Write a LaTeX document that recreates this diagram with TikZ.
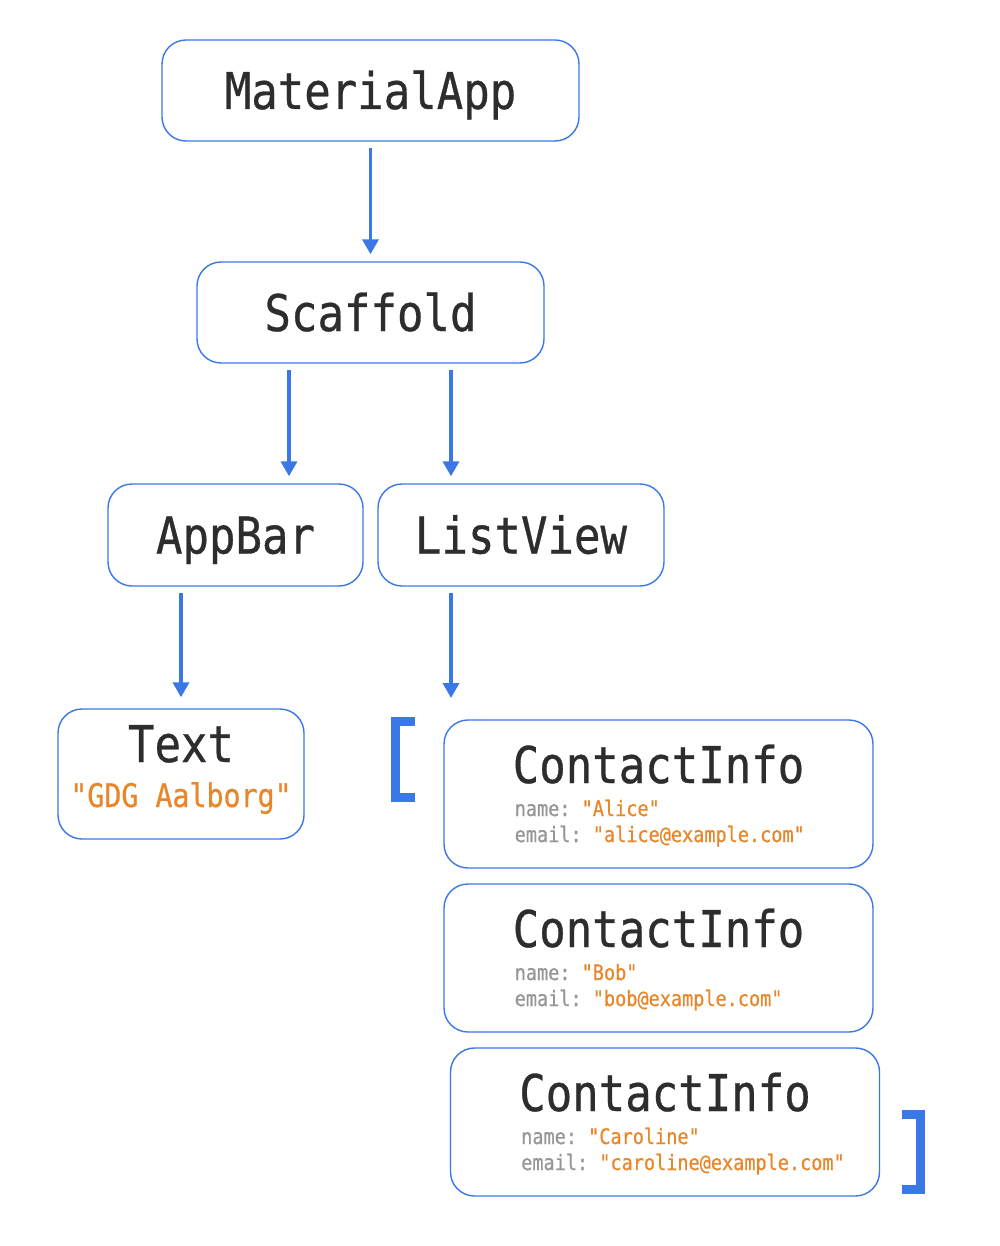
\documentclass[tikz,border=0pt]{standalone}
\usepackage{fontspec}
\setmonofont{DejaVu Sans Mono}[FakeStretch=0.87, FakeBold=0.6]
\usepackage{tikz}
\usetikzlibrary{positioning, calc, arrows.meta}

\definecolor{flutterblue}{HTML}{3B78E7}
\definecolor{codedark}{HTML}{2D2D2D}
\definecolor{strorange}{HTML}{E8872A}
\definecolor{keygrey}{HTML}{969696}

\newcommand{\field}[2]{\makebox[286pt][l]{\hspace*{2pt}\fontsize{21.3}{26}\selectfont\color{keygrey}#1: \color{strorange}"#2"}}

\tikzset{
  widget/.style={draw=flutterblue, line width=1.4pt, rounded corners=24pt, fill=white,
    text=codedark, inner sep=0pt, text height=37pt, text depth=0pt,
    font=\ttfamily\fontsize{50.6}{26}\selectfont},
  contact/.style={widget, minimum width=429pt, minimum height=148pt, align=left,
    text height=96pt, text depth=-4pt},
  edge/.style={flutterblue, line width=3.5pt, shorten <=6pt, shorten >=7pt,
    -{Triangle[width=16pt,length=15pt]}},
  listbracket/.style={flutterblue, line width=9pt, miter limit=10},
}

\begin{document}
\begin{tikzpicture}[x=1pt, y=-1pt]
    \useasboundingbox (0,0) rectangle (1000,1246);

    % Widget tree
    \node[widget, minimum width=417pt, minimum height=101pt] (materialapp) at (370.5,90.5) {MaterialApp};
    \node[widget, minimum width=347pt, minimum height=101pt] (scaffold) at (370.5,312.5) {Scaffold};
    \node[widget, minimum width=255pt, minimum height=102pt] (appbar) at (235.5,535) {AppBar};
    \node[widget, minimum width=286pt, minimum height=102pt] (listview) at (521,535) {ListView};
    \node[widget, minimum width=246pt, minimum height=130pt, align=center, text height=80pt, text depth=14pt,
          font=\ttfamily\fontsize{50.6}{45}\selectfont] (title) at (181,774)
          {Text\\{\fontsize{32.5}{45}\selectfont\color{strorange}"GDG Aalborg"}};

    % Children of ListView
    \node[contact] (alice) at (658.5,794) {ContactInfo\\[7pt]\field{name}{Alice}\\\field{email}{alice@example.com}};
    \node[contact] (bob) at (658.5,958) {ContactInfo\\[7pt]\field{name}{Bob}\\\field{email}{bob@example.com}};
    \node[contact] (caroline) at (665,1122) {ContactInfo\\[7pt]\field{name}{Caroline}\\\field{email}{caroline@example.com}};

    % List brackets
    \coordinate (listopen) at (395,717);
    \draw[listbracket] (415,721.5) -- (395,721.5) -- (395,797) -- (415,797);
    \draw[listbracket] (901.5,1114.5) -- (920.5,1114.5) -- (920.5,1189.5) -- (901.5,1189.5);

    % Arrows
    \draw[edge] (materialapp) -- (scaffold);
    \draw[edge] ([xshift=-81.5pt]scaffold.south) -- ([xshift=-81.5pt]scaffold.south |- appbar.north);
    \draw[edge] ([xshift=80.5pt]scaffold.south) -- ([xshift=80.5pt]scaffold.south |- listview.north);
    \draw[edge, shorten >=11pt] (appbar.south -| title.north) -- (title.north);
    \draw[edge, shorten >=19pt] ([xshift=-70pt]listview.south) -- ([xshift=-70pt]listview.south |- listopen);
\end{tikzpicture}
\end{document}
